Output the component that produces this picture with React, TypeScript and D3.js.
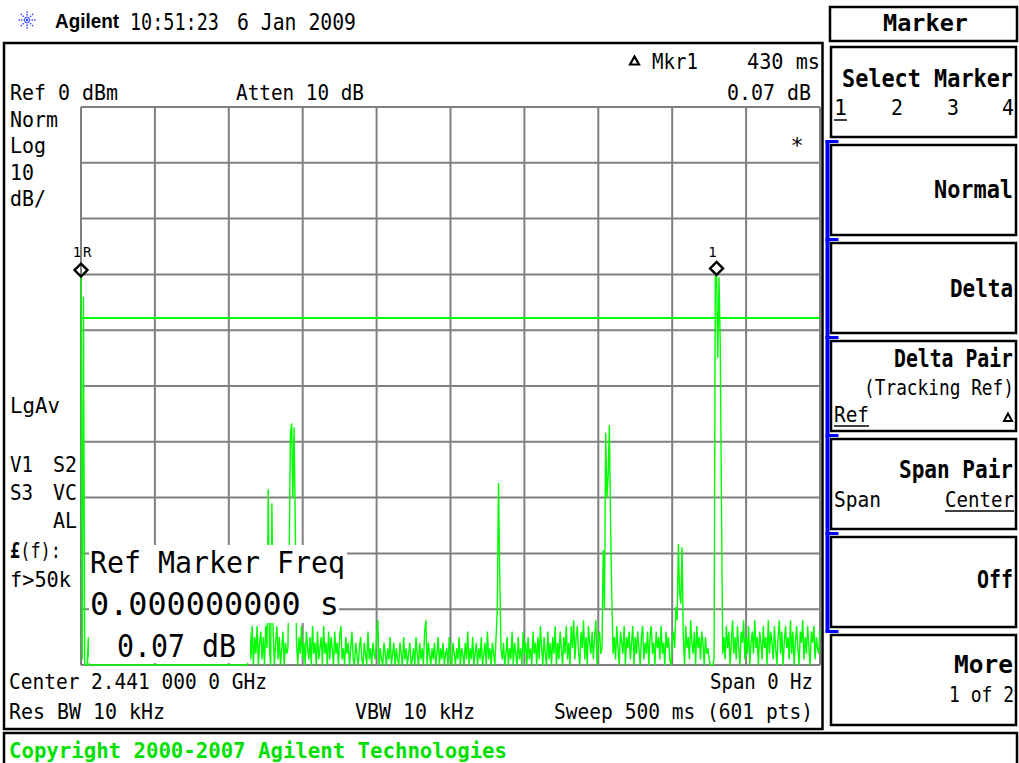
import React from "react";
import * as d3 from "d3";

// ---------- data ----------
const sweepMs = 500;
const refLevelDb = 0;
const dbPerDiv = 10;
const divisions = 10;
const displayLineDb = -37.8;
const markerTimesMs = [0, 430];
const markerLabels = ["1", "1"];

// trace amplitude, dBm, 601 sweep points
const traceDb = [
  -30.3, -99, -34, -100, -101, -100, -95,
  -100, -101, -100, -102, -100, -101, -100, -100, -102, -101,
  -101, -100, -102, -100, -101, -100, -101, -102, -100, -100,
  -102, -101, -100, -100, -101, -102, -100, -101, -100, -102,
  -100, -100, -101, -102, -100, -101, -100, -100, -101, -100,
  -101, -102, -100, -101, -100, -100, -102, -101, -100, -101,
  -100, -101, -100, -100, -102, -101, -100, -101, -102, -100,
  -102, -100, -101, -100, -100, -101, -102, -100, -100, -101,
  -100, -101, -102, -101, -100, -100, -101, -100, -102, -100,
  -101, -100, -100, -102, -101, -100, -100, -101, -100, -102,
  -100, -102, -101, -100, -101, -100, -102, -100, -101, -100,
  -102, -100, -100, -101, -100, -102, -101, -100, -100, -101,
  -100, -101, -102, -100, -100, -101, -100, -102, -101, -100,
  -101, -100, -100, -101, -102, -100, -101, -100, -100, -99,
  -94, -99, -93, -100, -95, -98, -93, -101, -96, -94, -99, -95, -100, -93, -97,
  -68.5, -97, -100, -71,
  -94, -100, -96, -93, -99, -95, -101, -97, -94, -100, -96, -98,
  -97, -82, -58.8, -56.7, -70, -57.4, -75, -96,
  -100, -95, -98, -93, -99, -96, -100, -94, -97, -99,
  -95, -101, -93, -98, -96, -100, -94, -99, -97, -95,
  -100, -93, -98, -96, -101, -94, -99, -95, -97, -100,
  -94, -98, -96, -100, -95, -93, -99, -97, -101, -95,
  -98, -96, -100, -97, -94, -99, -101, -96, -98, -100,
  -97, -95, -99, -101, -96, -98, -100, -94, -99, -97,
  -100, -96, -98, -99, -95, -92, -100, -97, -99, -101,
  -96, -98, -100, -97, -99, -95, -101, -98, -96, -100,
  -97, -99, -101, -96, -98, -100, -95, -99, -97, -101,
  -98, -96, -100, -99, -97, -101, -95, -98, -100, -96,
  -99, -97, -101, -94, -92, -100, -96, -98, -101, -97,
  -99, -96, -100, -98, -95, -101, -97, -99, -96, -100,
  -98, -97, -101, -95, -99, -100, -96, -98, -101, -97,
  -99, -95, -100, -97, -98, -101, -96, -99, -94, -100,
  -97, -99, -95, -101, -98, -96, -100, -97, -99, -95,
  -101, -98, -96, -100, -94, -99, -97, -101, -96, -98,
  -100, -95, -90, -67.4, -84, -97, -99, -96, -101, -98,
  -95, -100, -97, -99, -94, -101, -96, -98, -100, -95,
  -99, -97, -101, -94, -98, -96, -100, -95, -99, -97,
  -101, -94, -98, -96, -100, -95, -99, -93, -97, -101,
  -95, -98, -100, -94, -99, -96, -101, -95, -98, -93,
  -100, -96, -99, -94, -97, -101, -95, -98, -93, -99,
  -96, -100, -93, -97, -92, -99, -95, -93, -98, -101,
  -94, -97, -92, -99, -95, -100, -93, -96, -98, -94,
  -99, -95, -92, -100, -96, -94, -98, -97,
  -79.4, -90, -58.4, -70, -66, -57, -75.5, -88, -98,
  -95, -99, -93, -97, -100, -94, -96, -98, -93, -101,
  -95, -97, -94, -99, -96, -93, -100, -95, -98, -94,
  -97, -101, -95, -93, -99, -96, -98, -94, -100, -95,
  -93, -98, -96, -100, -94, -97, -95, -99, -93, -98,
  -96, -100, -94, -97, -95, -99, -101, -96, -94, -97,
  -89.6, -92, -78.3, -87, -89, -78.9, -95,
  -100, -93, -97, -95, -99, -92, -96, -98, -94, -100,
  -93, -97, -95, -99, -94, -96, -101, -95, -98, -97,
  -99, -101, -100, -102, -99,
  -30.3, -30.0, -45, -30.5, -42.5, -71, -98,
  -95, -99, -93, -97, -94, -100, -96, -92, -98, -95,
  -99, -93, -97, -101, -94, -96, -92, -99, -95, -98,
  -93, -100, -96, -94, -98, -92, -97, -95, -101, -94,
  -96, -99, -93, -97, -95, -100, -92, -98, -94, -96,
  -99, -93, -97, -101, -95, -92, -98, -94, -100, -96,
  -93, -97, -95, -99, -92, -98, -94, -100, -96, -93,
  -97, -101, -94, -96, -92, -99, -95, -98, -93, -97,
  -100, -94, -96, -93, -99, -95, -97, -98, -93.7,
];

const softkeyTops = [47, 145, 243, 341, 439, 537, 635];
const blueTicks = [140, 238, 336, 434, 532, 630];

// ---------- layout ----------
const GX0 = 81, GX1 = 820, GY0 = 107, GY1 = 665;
const MONO = "'DejaVu Sans Mono', monospace";

type TP = { x: number; y: number; s: string; w?: number; size?: number; anchor?: string; bold?: boolean; fill?: string; family?: string };
const T = ({ x, y, s, w, size = 22, anchor = "start", bold = false, fill = "#000", family = MONO }: TP) => (
  <text
    x={x}
    y={y}
    fontSize={size}
    fontFamily={family}
    fontWeight={bold ? "bold" : "normal"}
    fill={fill}
    textAnchor={anchor}
    textLength={w}
    lengthAdjust={w ? "spacingAndGlyphs" : undefined}
  >
    {s}
  </text>
);

export default function App() {
  const n = traceDb.length;
  const xT = d3.scaleLinear().domain([0, sweepMs]).range([GX0, GX1]);
  const yS = d3
    .scaleLinear()
    .domain([refLevelDb - dbPerDiv * divisions, refLevelDb])
    .range([GY1, GY0]);
  const xTicks = d3.range(divisions + 1).map((i) => (sweepMs / divisions) * i);
  const yTicks = d3.range(divisions + 1).map((i) => refLevelDb - dbPerDiv * i);

  const line = d3
    .line<number>()
    .x((_, i) => xT((i / (n - 1)) * sweepMs))
    .y((d) => yS(Math.max(-100, Math.min(0, d))));
  const tracePath = line(traceDb) || "";

  const markerDb = markerTimesMs.map((t) => {
    const i = Math.round((t / sweepMs) * (n - 1));
    return traceDb[i];
  });

  const star = d3.range(8).map((k) => (k * Math.PI) / 4);

  return (
    <svg
      width={1019}
      height={763}
      style={{ position: "fixed", left: 0, top: 0, background: "#fff" }}
    >
      <rect x={0} y={0} width={1019} height={763} fill="#fff" />
      <defs>
        <clipPath id="gclip">
          <rect x={GX0 - 1.5} y={GY0 - 1} width={GX1 - GX0 + 2} height={GY1 - GY0 + 2} />
        </clipPath>
      </defs>

      {/* header */}
      <g stroke="#2a3cff" strokeWidth={1.6} strokeDasharray="1.3 1.3">
        {star.map((a, i) => (
          <line
            key={i}
            x1={27 + 2 * Math.cos(a)}
            y1={20 + 2 * Math.sin(a)}
            x2={27 + 8.5 * Math.cos(a)}
            y2={20 + 8.5 * Math.sin(a)}
          />
        ))}
      </g>
      <circle cx={27} cy={20} r={1.2} fill="#2a3cff" />
      <T x={55} y={28} s="Agilent" w={64} size={20} bold family="'Liberation Sans', Arial, sans-serif" />
      <T x={130} y={30} s="10:51:23" w={89} size={23} />
      <T x={237} y={30} s="6 Jan 2009" w={119} size={23} />

      {/* main frame */}
      <rect x={4} y={43} width={818.5} height={686} fill="none" stroke="#000" strokeWidth={2.5} />

      {/* grid */}
      <g stroke="#808080" strokeWidth={2}>
        {xTicks.map((t, i) => (
          <line key={"vx" + i} x1={xT(t)} x2={xT(t)} y1={GY0} y2={GY1} />
        ))}
        {yTicks.map((d, i) => (
          <line key={"hy" + i} x1={GX0} x2={GX1} y1={yS(d)} y2={yS(d)} />
        ))}
      </g>

      {/* trace */}
      <g clipPath="url(#gclip)">
        <path d={tracePath} fill="none" stroke="#00ff00" strokeWidth={1.4} />
        <line x1={GX0} x2={GX1} y1={yS(displayLineDb)} y2={yS(displayLineDb)} stroke="#00ff00" strokeWidth={2} />
      </g>

      {/* top labels */}
      <T x={10} y={100} s="Ref 0 dBm" w={108} />
      <T x={236} y={100} s="Atten 10 dB" w={128} />
      <path d="M634.5,56.5 L630,64.5 L639,64.5 Z" fill="none" stroke="#000" strokeWidth={2.2} strokeLinejoin="miter" />
      <T x={652} y={69} s="Mkr1" w={46} />
      <T x={747} y={69} s="430 ms" w={73} />
      <T x={727} y={100} s="0.07 dB" w={84} />

      {/* left column */}
      <T x={10} y={127} s="Norm" w={48} />
      <T x={10} y={153} s="Log" w={36} />
      <T x={10} y={180} s="10" w={24} />
      <T x={10} y={206} s="dB/" w={36} />
      <T x={10} y={413} s="LgAv" w={50} />
      <T x={10} y={472} s="V1" w={23} />
      <T x={53} y={472} s="S2" w={24} />
      <T x={10} y={500} s="S3" w={23} />
      <T x={53} y={500} s="VC" w={24} />
      <T x={53} y={528} s="AL" w={24} />
      <text x={10} y={558} fontSize={22} fontFamily={MONO} textLength={51} lengthAdjust="spacingAndGlyphs">
        <tspan fontWeight="bold">£</tspan>(f):
      </text>
      <T x={10} y={587} s="f>50k" w={61} />

      <T x={797} y={153} s="*" size={22} anchor="middle" />

      {/* markers */}
      {markerTimesMs.map((t, i) => {
        const cx = xT(t);
        const cy = yS(markerDb[i]) - 6;
        return (
          <g key={"m" + i}>
            <path
              d={`M${cx},${cy - 6.5} L${cx + 6.5},${cy} L${cx},${cy + 6.5} L${cx - 6.5},${cy} Z`}
              fill="none"
              stroke="#000"
              strokeWidth={2.4}
            />
            <T x={cx - 4} y={257} s={markerLabels[i]} size={14} anchor="middle" />
            {i === 0 && <T x={cx + 2} y={257} s="R" size={14} />}
          </g>
        );
      })}

      {/* ref marker freq readout */}
      <rect x={89} y={545} width={258} height={38} fill="#fff" />
      <rect x={89} y={583} width={250} height={40} fill="#fff" />
      <rect x={89} y={623} width={161} height={40} fill="#fff" />
      <T x={90} y={573} s="Ref Marker Freq" w={255} size={31} />
      <T x={90} y={615} s="0.000000000  s" w={249} size={32} />
      <T x={117} y={657} s="0.07 dB" w={119} size={32} />

      {/* bottom labels */}
      <T x={9} y={689} s="Center 2.441 000 0 GHz" w={258} />
      <T x={710} y={689} s="Span 0 Hz" w={103} />
      <T x={9} y={719} s="Res BW 10 kHz" w={156} />
      <T x={355} y={719} s="VBW 10 kHz" w={120} />
      <T x={554} y={719} s="Sweep 500 ms (601 pts)" w={259} />

      {/* copyright */}
      <rect x={4} y={733} width={1013} height={40} fill="none" stroke="#000" strokeWidth={2.5} />
      <T x={9} y={758} s="Copyright 2000-2007 Agilent Technologies" w={498} size={22} bold fill="#00e000" />

      {/* softkeys */}
      <rect x={830} y={7} width={187} height={34} fill="none" stroke="#000" strokeWidth={2.5} />
      <T x={883} y={31} s="Marker" w={85} size={23} bold />
      {softkeyTops.map((t, i) => (
        <rect key={"sk" + i} x={831} y={t} width={185} height={90} fill="none" stroke="#000" strokeWidth={2.5} />
      ))}
      <rect x={825.5} y={140} width={4} height={492} fill="#0000ff" />
      {blueTicks.map((y, i) => (
        <rect key={"bt" + i} x={825.5} y={y} width={13} height={3} fill="#0000ff" />
      ))}

      <T x={842} y={87} s="Select Marker" w={171} size={24} bold />
      <T x={834} y={115} s="1" size={22} w={13} />
      <line x1={834} x2={847} y1={120} y2={120} stroke="#000" strokeWidth={1.5} />
      <T x={891} y={115} s="2" size={22} w={12} />
      <T x={947} y={115} s="3" size={22} w={12} />
      <T x={1002} y={115} s="4" size={22} w={12} />

      <T x={934} y={198} s="Normal" w={79} size={24} bold />
      <T x={950} y={297} s="Delta" w={63} size={24} bold />

      <T x={894} y={367} s="Delta Pair" w={119} size={24} bold />
      <T x={864} y={395} s="(Tracking Ref)" w={150} />
      <T x={834} y={422} s="Ref" w={35} />
      <line x1={834} x2={869} y1={426} y2={426} stroke="#000" strokeWidth={1.5} />
      <path d="M1008,413.5 L1004,421 L1012,421 Z" fill="none" stroke="#000" strokeWidth={2} />

      <T x={899} y={478} s="Span Pair" w={114} size={24} bold />
      <T x={834} y={507} s="Span" w={47} />
      <T x={945} y={507} s="Center" w={69} />
      <line x1={945} x2={1014} y1={511} y2={511} stroke="#000" strokeWidth={1.5} />

      <T x={977} y={588} s="Off" w={36} size={24} bold />
      <T x={954} y={673} s="More" w={59} size={24} bold />
      <T x={949} y={702} s="1 of 2" w={65} />
    </svg>
  );
}
